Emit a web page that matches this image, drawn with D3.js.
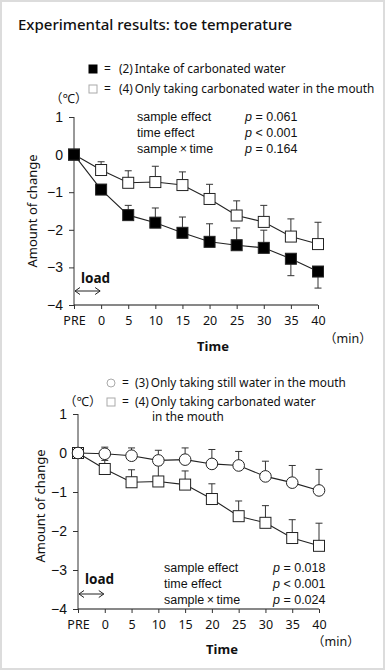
<!DOCTYPE html>
<html><head><meta charset="utf-8">
<script src="https://cdn.jsdelivr.net/npm/d3@7"></script>
<style>body{margin:0;background:#fff}svg{display:block}</style>
</head><body>
<script>
const timeLabels = ["PRE","0","5","10","15","20","25","30","35","40"];
const yTicks = [1,0,-1,-2,-3,-4];
// (2) Intake of carbonated water
const s2Mean = [0,-0.93,-1.61,-1.81,-2.08,-2.32,-2.41,-2.48,-2.77,-3.11];
const s2Err  = [0,0.12,0.26,0.39,0.42,0.48,0.46,0.47,0.45,0.44];
const s2Dir  = [1,1,1,1,1,1,1,1,-1,-1];
// (4) Only taking carbonated water in the mouth
const s4Mean = [0,-0.41,-0.75,-0.73,-0.81,-1.18,-1.62,-1.79,-2.18,-2.38];
const s4Err  = [0,0.22,0.32,0.42,0.35,0.39,0.39,0.44,0.47,0.58];
// (3) Only taking still water in the mouth
const s3Mean = [0,-0.02,-0.07,-0.19,-0.17,-0.28,-0.32,-0.60,-0.76,-0.96];
const s3Err  = [0,0.17,0.20,0.26,0.30,0.37,0.36,0.39,0.44,0.54];
const stats1 = [["sample effect","p = 0.061"],["time effect","p < 0.001"],["sample\u2009\u00d7\u2009time","p = 0.164"]];
const stats2 = [["sample effect","p = 0.018"],["time effect","p < 0.001"],["sample\u2009\u00d7\u2009time","p = 0.024"]];

const W=388,H=672;
const svg=d3.select("body").append("svg").attr("width",W).attr("height",H);
const UI='"Noto Sans","Noto Sans CJK JP",sans-serif';
const AR='"Liberation Sans",Arial,sans-serif';

svg.append("rect").attr("x",1).attr("y",1).attr("width",383).attr("height",668)
  .attr("fill","#fff").attr("stroke","#dcdcdc").attr("stroke-width",2);

svg.append("text").attr("x",18).attr("y",30).attr("font-family",UI).attr("font-size",15)
  .attr("font-weight",500).attr("fill","#111").text("Experimental results: toe temperature");

function chart(o){
  const g=svg.append("g");
  const x=d3.scalePoint().domain(timeLabels).range([o.x0,o.x1]);
  const y=d3.scaleLinear().domain([-4,1]).range([o.yB,o.yT]);
  // axes
  const ya=g.append("g").attr("transform",`translate(${o.x0},0)`)
    .call(d3.axisLeft(y).tickValues(yTicks).tickSize(5).tickPadding(6).tickFormat(d3.format("d")));
  ya.select(".domain").attr("stroke","#333").attr("d",`M0,${o.yT}V${o.yB}`);
  ya.selectAll(".tick line").attr("stroke","#333");
  ya.selectAll("text").attr("font-family",AR).attr("font-size",14).attr("fill","#111");
  const xa=g.append("g").attr("transform",`translate(0,${o.yB})`)
    .call(d3.axisBottom(x).tickSize(4).tickPadding(7));
  xa.select(".domain").attr("stroke","#111").attr("d",`M${o.x0},0H${o.x1}`);
  xa.selectAll(".tick line").attr("stroke","#333");
  xa.selectAll("text").attr("font-family",UI).attr("font-size",12.5).attr("fill","#111");
  // labels
  g.append("text").attr("transform",`translate(${o.ylx},${o.yly}) rotate(-90)`)
    .attr("text-anchor","middle").attr("font-family",UI).attr("font-size",13).attr("fill","#111")
    .text("Amount of change");
  g.append("text").attr("x",o.timeX).attr("y",o.timeY).attr("text-anchor","middle")
    .attr("font-family",UI).attr("font-size",13).attr("font-weight","bold").attr("fill","#111").text("Time");
  g.append("text").attr("x",o.minX).attr("y",o.minY).attr("font-family",UI).attr("font-size",12.5)
    .attr("fill","#111").text("\uff08min\uff09");
  g.append("text").attr("x",o.degX).attr("y",o.degY).attr("font-family",UI).attr("font-size",12.5)
    .attr("fill","#111").text("\uff08\u2103\uff09");
  g.append("text").attr("x",o.x0+7).attr("y",o.loadY).attr("font-family",UI).attr("font-size",13.5)
    .attr("font-weight","bold").attr("fill","#111").text("load");
  const ay=o.arrowY, ax0=o.x0, ax1=x("0");
  g.append("path").attr("d",`M${ax0+1},${ay}H${ax1-1}M${ax0+6},${ay-3.5}L${ax0+1},${ay}L${ax0+6},${ay+3.5}M${ax1-6},${ay-3.5}L${ax1-1},${ay}L${ax1-6},${ay+3.5}`)
    .attr("fill","none").attr("stroke","#222").attr("stroke-width",1);
  // stats
  o.stats.forEach((s,i)=>{
    g.append("text").attr("x",o.stX).attr("y",o.stY+i*16).attr("font-family",AR).attr("font-size",12.5)
      .attr("fill","#111").text(s[0]);
    const t=g.append("text").attr("x",o.pX).attr("y",o.stY+i*16).attr("font-family",AR).attr("font-size",12.5).attr("fill","#111");
    t.append("tspan").attr("font-style","italic").text("p");
    t.append("tspan").text(s[1].slice(1));
  });
  // series
  o.series.forEach(s=>{
    const pts=timeLabels.map((t,i)=>({x:x(t),m:s.mean[i],e:s.err[i],d:s.dir?s.dir[i]:1}));
    pts.forEach(p=>{ if(p.e<=0) return;
      const ye=y(p.m+p.d*p.e);
      g.append("line").attr("x1",p.x).attr("x2",p.x).attr("y1",y(p.m)).attr("y2",ye).attr("stroke","#333").attr("stroke-width",1);
      g.append("line").attr("x1",p.x-3.5).attr("x2",p.x+3.5).attr("y1",ye).attr("y2",ye).attr("stroke","#333").attr("stroke-width",1);
    });
    g.append("path").datum(pts).attr("d",d3.line().x(p=>p.x).y(p=>y(p.m)))
      .attr("fill","none").attr("stroke","#222").attr("stroke-width",1.1);
  });
  o.series.forEach(s=>{
    timeLabels.forEach((t,i)=>{
      const cx=x(t), cy=y(s.mean[i]);
      if(s.shape==="circle"){
        g.append("circle").attr("cx",cx).attr("cy",cy).attr("r",5.8).attr("fill","#fff").attr("stroke","#222").attr("stroke-width",1);
      } else {
        const sz=11;
        g.append("rect").attr("x",cx-sz/2).attr("y",cy-sz/2).attr("width",sz).attr("height",sz)
          .attr("fill",s.fill).attr("stroke","#222").attr("stroke-width",1);
      }
    });
  });
  // legend
  o.legend.forEach(l=>{
    if(l.shape==="circle") g.append("circle").attr("cx",l.mx).attr("cy",l.y-4).attr("r",4).attr("fill","#fff").attr("stroke","#aaa");
    else if(l.shape) g.append("rect").attr("x",l.mx-4).attr("y",l.y-8).attr("width",8).attr("height",8)
      .attr("fill",l.fill).attr("stroke",l.fill==="#000"?"#000":"#aaa");
    if(l.shape) g.append("text").attr("x",l.mx+11).attr("y",l.y).attr("font-family",UI).attr("font-size",12).attr("fill","#111").text("=");
    g.append("text").attr("x",l.tx).attr("y",l.y).attr("font-family",UI).attr("font-size",11.8).attr("fill","#111").text(l.text);
  });
}

chart({x0:74,x1:318,yT:117,yB:305,ylx:37,yly:211,timeX:213,timeY:351,minX:324,minY:343,degX:50,degY:103,
  loadY:283,arrowY:291,stX:137,pX:245,stY:121,stats:stats1,
  series:[{mean:s4Mean,err:s4Err,shape:"square",fill:"#fff"},{mean:s2Mean,err:s2Err,dir:s2Dir,shape:"square",fill:"#000"}],
  legend:[{shape:"square",fill:"#000",mx:93,y:73,tx:119,text:"(2)\u2009Intake of carbonated water"},
          {shape:"square",fill:"#fff",mx:93,y:93,tx:119,text:"(4)\u2009Only taking carbonated water in the mouth"}]});

chart({x0:78,x1:319,yT:414,yB:609,ylx:45,yly:506,timeX:222,timeY:654,minX:312,minY:646,degX:64,degY:406,
  loadY:584,arrowY:594,stX:164,pX:273,stY:572,stats:stats2,
  series:[{mean:s4Mean,err:s4Err,shape:"square",fill:"#fff"},{mean:s3Mean,err:s3Err,shape:"circle"}],
  legend:[{shape:"circle",mx:111,y:387,tx:135,text:"(3)\u2009Only taking still water in the mouth"},
          {shape:"square",fill:"#fff",mx:111,y:406,tx:135,text:"(4)\u2009Only taking carbonated water"},
          {mx:0,y:421,tx:152,text:"in the mouth"}]});
</script>
</body></html>
